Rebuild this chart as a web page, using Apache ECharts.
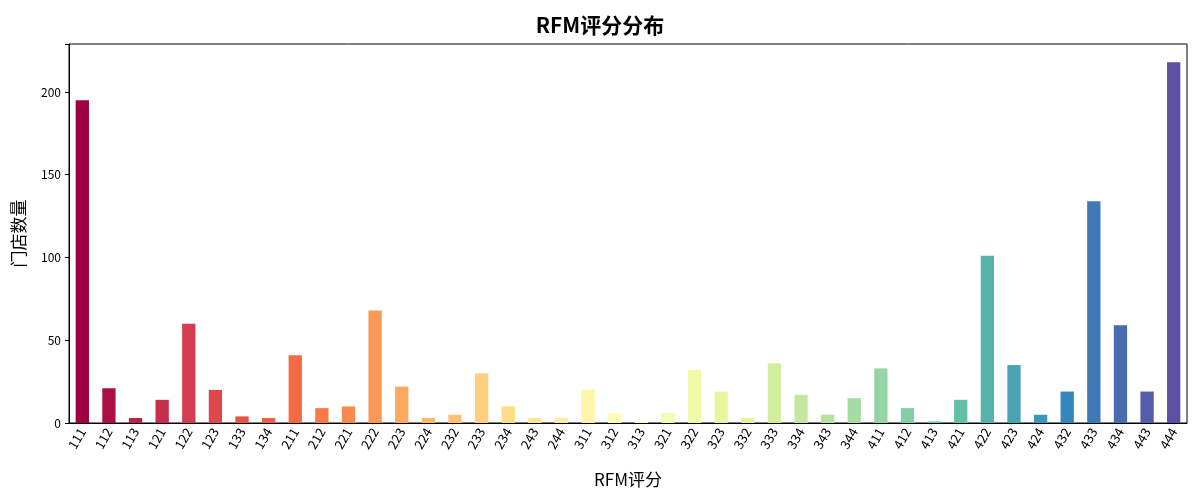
<!DOCTYPE html>
<html><head><meta charset="utf-8">
<script src="https://cdn.jsdelivr.net/npm/echarts@6/dist/echarts.min.js"></script>
<style>html,body{margin:0;padding:0;background:#fff}#c{width:1200px;height:500px}</style>
</head><body><div id="c"></div>
<script>
const categories = ['111','112','113','121','122','123','133','134','211','212','221','222','223','224','232','233','234','243','244','311','312','313','321','322','323','332','333','334','343','344','411','412','413','421','422','423','424','432','433','434','443','444'];
const values = [195,21,3,14,60,20,4,3,41,9,10,68,22,3,5,30,10,3,3,20,6,1,6,32,19,3,36,17,5,15,33,9,1,14,101,35,5,19,134,59,19,218];
const yTicks = [0,50,100,150,200];

const stops = ['#9e0142','#d53e4f','#f46d43','#fdae61','#fee08b','#ffffbf','#e6f598','#abdda4','#66c2a5','#3288bd','#5e4fa2'];
function hex(h){return [1,3,5].map(i=>parseInt(h.substr(i,2),16));}
function spectral(t){
  const p=t*(stops.length-1), i=Math.min(Math.floor(p),stops.length-2), f=p-i;
  const a=hex(stops[i]), b=hex(stops[i+1]);
  return 'rgb('+a.map((v,k)=>Math.round(v+(b[k]-v)*f)).join(',')+')';
}
const n=categories.length;
const font='"Noto Sans CJK SC", sans-serif';
const chart=echarts.init(document.getElementById('c'));
chart.setOption({
  animation:false,
  title:{text:'RFM评分分布',left:'center',top:10,textStyle:{fontFamily:font,fontSize:21,fontWeight:'bold',color:'#000'}},
  grid:{left:69,right:13,top:44,bottom:77,show:true,borderColor:'#000',borderWidth:1},
  xAxis:{type:'category',data:categories,
    name:'RFM评分',nameLocation:'middle',nameGap:48,nameTextStyle:{fontFamily:font,fontSize:17,color:'#000'},
    axisLine:{lineStyle:{color:'#000'}},axisTick:{alignWithLabel:true,length:4,lineStyle:{color:'#000'}},
    axisLabel:{rotate:60,interval:0,fontFamily:font,fontSize:13,color:'#000',margin:6}},
  yAxis:{type:'value',min:0,max:229,interval:50,
    name:'门店数量',nameLocation:'middle',nameGap:42,nameTextStyle:{fontFamily:font,fontSize:17,color:'#000'},
    splitLine:{show:false},axisLine:{show:true,lineStyle:{color:'#000'}},
    axisTick:{show:true,length:4,lineStyle:{color:'#000'}},
    axisLabel:{fontFamily:font,fontSize:12,color:'#000',formatter:v=>yTicks.includes(v)?String(v):''}},
  series:[{type:'bar',barWidth:'50%',
    data:values.map((v,i)=>({value:v,itemStyle:{color:spectral(i/(n-1))}}))}]
});
</script></body></html>
